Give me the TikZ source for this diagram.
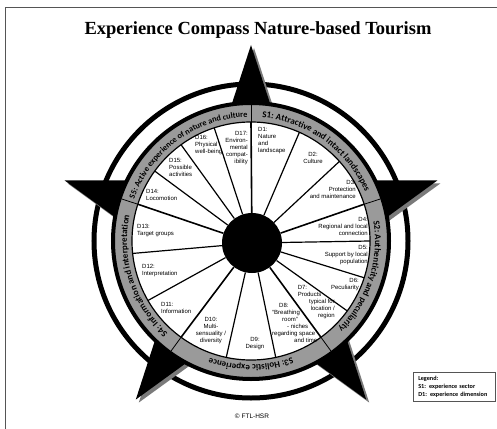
\documentclass[tikz,border=0pt]{standalone}
\usepackage{fontspec}
\usepackage{xcolor}
\usepackage{tikz}
\usetikzlibrary{decorations.text, positioning, calc}
\newfontfamily\titlefont{Liberation Serif}
\newfontfamily\dimfont{Liberation Sans}
\newfontfamily\secfont{Carlito}
\definecolor{bandgray}{HTML}{9A9A9A}
\definecolor{shadowgray}{HTML}{7A7A7A}
\definecolor{framegray}{HTML}{555555}

\begin{document}
\begin{tikzpicture}[
    x=1pt, y=1pt,
    dim/.style={font=\dimfont\fontsize{6}{7}\selectfont, inner sep=0pt},
    dimline/.style={line width=1.2pt},
    secline/.style={line width=1.6pt},
    sector/.style 2 args={decorate, decoration={text along path, text align=center,
        text={|\secfont\bfseries\fontsize{#1}{9}\selectfont|#2}}},
]
    \useasboundingbox (-251,241) rectangle (246,-187);
    \clip (-251,241) rectangle (246,-187);
    % frame and title
    \draw[framegray, line width=0.8pt] (-245.5,234) rectangle (260,-200);
    \node[font=\titlefont\bfseries\fontsize{18.5}{20}\selectfont, anchor=base] (title) at (7,206.5) {Experience Compass Nature-based Tourism};

    % outer ring and star
    \draw[line width=5pt] (0,0) circle[radius=157];
    \fill[shadowgray, shift={(3,-3)}] (90:196) \foreach \a in {18,-54,-126,162} {-- (\a+36:75) -- (\a:196)} -- (126:75) -- cycle;
    \fill[black] (90:196) \foreach \a in {18,-54,-126,162} {-- (\a+36:75) -- (\a:196)} -- (126:75) -- cycle;

    % sector band
    \draw[fill=bandgray, line width=4pt] (0,0) circle[radius=138];
    \draw[fill=white, line width=1.2pt] (0,0) circle[radius=119];
    \foreach \a in {90,18,-54,-126,162}
        \draw[line width=0.8pt] (\a:119) -- (\a:136);

    \path[sector={9}{S1: Attractive and intact landscapes}] (90:124) arc[start angle=90, end angle=18, radius=124];
    \path[sector={9}{S2: Authenticity and peculiarity}] (18:124) arc[start angle=18, end angle=-54, radius=124];
    \path[sector={9}{S3: Holistic experience}] (-54:124) arc[start angle=-54, end angle=-126, radius=124];
    \path[sector={9}{S4: Information and interpretation}] (-126:124) arc[start angle=-126, end angle=-198, radius=124];
    \path[sector={8.3}{S5: Active experience of nature and culture}] (162:124) arc[start angle=162, end angle=90, radius=124];

    % hub and dimension lines
    \node[circle, fill=black, minimum size=60pt, inner sep=0pt] (hub) at (1,-2) {};
    \foreach \a in {66,42,0,-18,-36,-78,-102,-150,-174,144,126,108}
        \draw[dimline] (hub) -- (\a:119);
    \foreach \a in {90,18,-54,-126,162}
        \draw[secline] (hub) -- (\a:119);

    % dimensions
    \node[dim, align=left, anchor=north west] (d1) at (7,114) {D1:\\Nature\\and\\landscape};
    \node[dim, align=center] (d2) at (62,83) {D2:\\Culture};
    \node[dim, align=right, anchor=east] (d3) at (105,52) {D3:\\Protection\\and maintenance};
    \node[dim, align=right, anchor=east] (d4) at (117,15) {D4:\\Regional and local\\connection};
    \node[dim, align=right, anchor=east] (d5) at (117,-14) {D5:\\Support by local\\population};
    \node[dim, align=right, anchor=east] (d6) at (108,-44) {D6:\\Peculiarity};
    \node[dim, align=right, anchor=east] (d7) at (84,-61.5) {\makebox[37pt][l]{D7:}\\\makebox[37pt][l]{Products}\\typical for\\location /\\region};
    \node[dim, align=left, anchor=north west] (d8) at (21,-62) {\hspace*{7pt}D8:\\“Breathing\\\hspace*{10pt}room”\\\hspace*{15pt}- niches\\regarding space\\\hspace*{22pt}and time};
    \node[dim, align=center] (d9) at (4,-103) {D9:\\Design};
    \node[dim, align=center] (d10) at (-40,-90) {D10:\\Multi-\\sensuality /\\diversity};
    \node[dim, align=left, anchor=west] (d11) at (-90,-66.5) {D11:\\Information};
    \node[dim, align=left, anchor=west] (d12) at (-109,-30) {D12:\\Interpretation};
    \node[dim, align=left, anchor=west] (d13) at (-114,10) {D13:\\Target groups};
    \node[dim, align=left, anchor=west] (d14) at (-105,46.5) {D14:\\Locomotion};
    \node[dim, align=left, anchor=west] (d15) at (-82,74) {D15:\\Possible\\activities};
    \node[dim, align=left, anchor=west] (d16) at (-56,96) {D16:\\Physical\\well-being};
    \node[dim, align=right, anchor=east] (d17) at (-3,92.5) {D17:\\Environ-\\mental\\compat-\\ibility};

    % legend and source
    \node[draw=framegray, line width=0.5pt, align=left, anchor=north west, text width=72pt,
          inner xsep=5pt, inner ysep=4pt, font=\secfont\bfseries\fontsize{6.2}{8}\selectfont] (legend) at (162,-131)
        {Legend:\\S1: experience sector\\D1: experience dimension};
    \node[font=\dimfont\fontsize{6.5}{7}\selectfont, anchor=base] (source) at (1,-177) {© FTL-HSR};
\end{tikzpicture}
\end{document}
